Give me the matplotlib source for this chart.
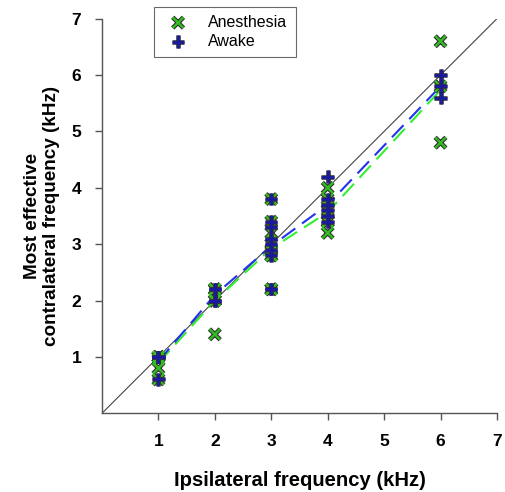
import matplotlib
matplotlib.use("Agg")
import matplotlib.pyplot as plt
import matplotlib.patheffects as pe
import numpy as np

plt.rcParams['font.family'] = ['Liberation Sans', 'DejaVu Sans']

# ipsilateral frequencies (kHz)
ipsi = [1, 2, 3, 4, 6]

# most effective contralateral frequency per cell (kHz)
anesthesia = {
    1: [1.0, 1.0, 1.0, 0.95, 0.8, 0.6],
    2: [2.2, 2.2, 2.0, 2.0, 2.2, 2.0, 1.4],
    3: [3.8, 3.4, 3.2, 3.0, 2.9, 2.8, 2.8, 2.2, 2.2],
    4: [4.0, 3.8, 3.6, 3.4, 3.2, 3.4],
    6: [6.6, 5.8, 4.8],
}
awake = {
    1: [1.0, 1.0, 1.0, 1.0, 0.6],
    2: [2.2, 2.2, 2.0, 2.0],
    3: [3.8, 3.4, 3.3, 3.1, 3.0, 2.9, 2.8, 2.2, 2.2],
    4: [4.2, 3.8, 3.7, 3.6, 3.5, 3.4],
    6: [6.0, 5.8, 5.6],
}

fig = plt.figure(figsize=(5.05, 4.92), dpi=100)
ax = fig.add_axes([0.202, 0.16, 0.782, 0.802])

# unity line
ax.plot([0, 7], [0, 7], color="#444444", lw=0.8, zorder=1)

# mean lines
ax.plot(ipsi, [np.mean(anesthesia[k]) for k in ipsi], color="#33ee33",
        lw=1.5, dashes=(8, 4), zorder=2)
ax.plot(ipsi, [np.mean(awake[k]) for k in ipsi], color="#2233ee",
        lw=1.5, dashes=(8, 4), zorder=2)

ax_x, ax_y = [], []
for k in ipsi:
    ax_x += [k] * len(anesthesia[k])
    ax_y += anesthesia[k]
aw_x, aw_y = [], []
for k in ipsi:
    aw_x += [k] * len(awake[k])
    aw_y += awake[k]

outline = [pe.Stroke(linewidth=3.3, foreground="#333333"), pe.Normal()]
s1 = ax.scatter(ax_x, ax_y, marker="x", s=60, color="#33bb22",
                linewidth=1.7, zorder=3, label="Anesthesia")
s1.set_path_effects(outline)
s2 = ax.scatter(aw_x, aw_y, marker="+", s=80, color="#1a1aa0",
                linewidth=1.9, zorder=4, label="Awake")
s2.set_path_effects(outline)

ax.set_xlim(0, 7)
ax.set_ylim(0, 7)
ax.set_xticks(range(1, 8))
ax.set_yticks(range(1, 8))
for s in ["top", "right"]:
    ax.spines[s].set_visible(False)
for s in ["left", "bottom"]:
    ax.spines[s].set_color("#555555")
    ax.spines[s].set_linewidth(1.0)
ax.tick_params(direction="out", length=5, width=1, color="#555555",
               labelsize=12.5, pad=10)
for t in ax.get_xticklabels() + ax.get_yticklabels():
    t.set_fontweight("bold")

ax.set_xlabel("Ipsilateral frequency (kHz)", fontsize=14.6,
              fontweight="bold", labelpad=16)
ax.set_ylabel("Most effective\ncontralateral frequency (kHz)", fontsize=13.6,
              fontweight="bold", labelpad=8)

leg = ax.legend(loc="upper left", bbox_to_anchor=(0.132, 1.03), fontsize=11.5,
                frameon=True, fancybox=False, edgecolor="#444444",
                borderpad=0.5, handletextpad=0.9, labelspacing=0.25,
                borderaxespad=0)
leg.get_frame().set_linewidth(0.8)

fig.savefig("out.png", dpi=100)
